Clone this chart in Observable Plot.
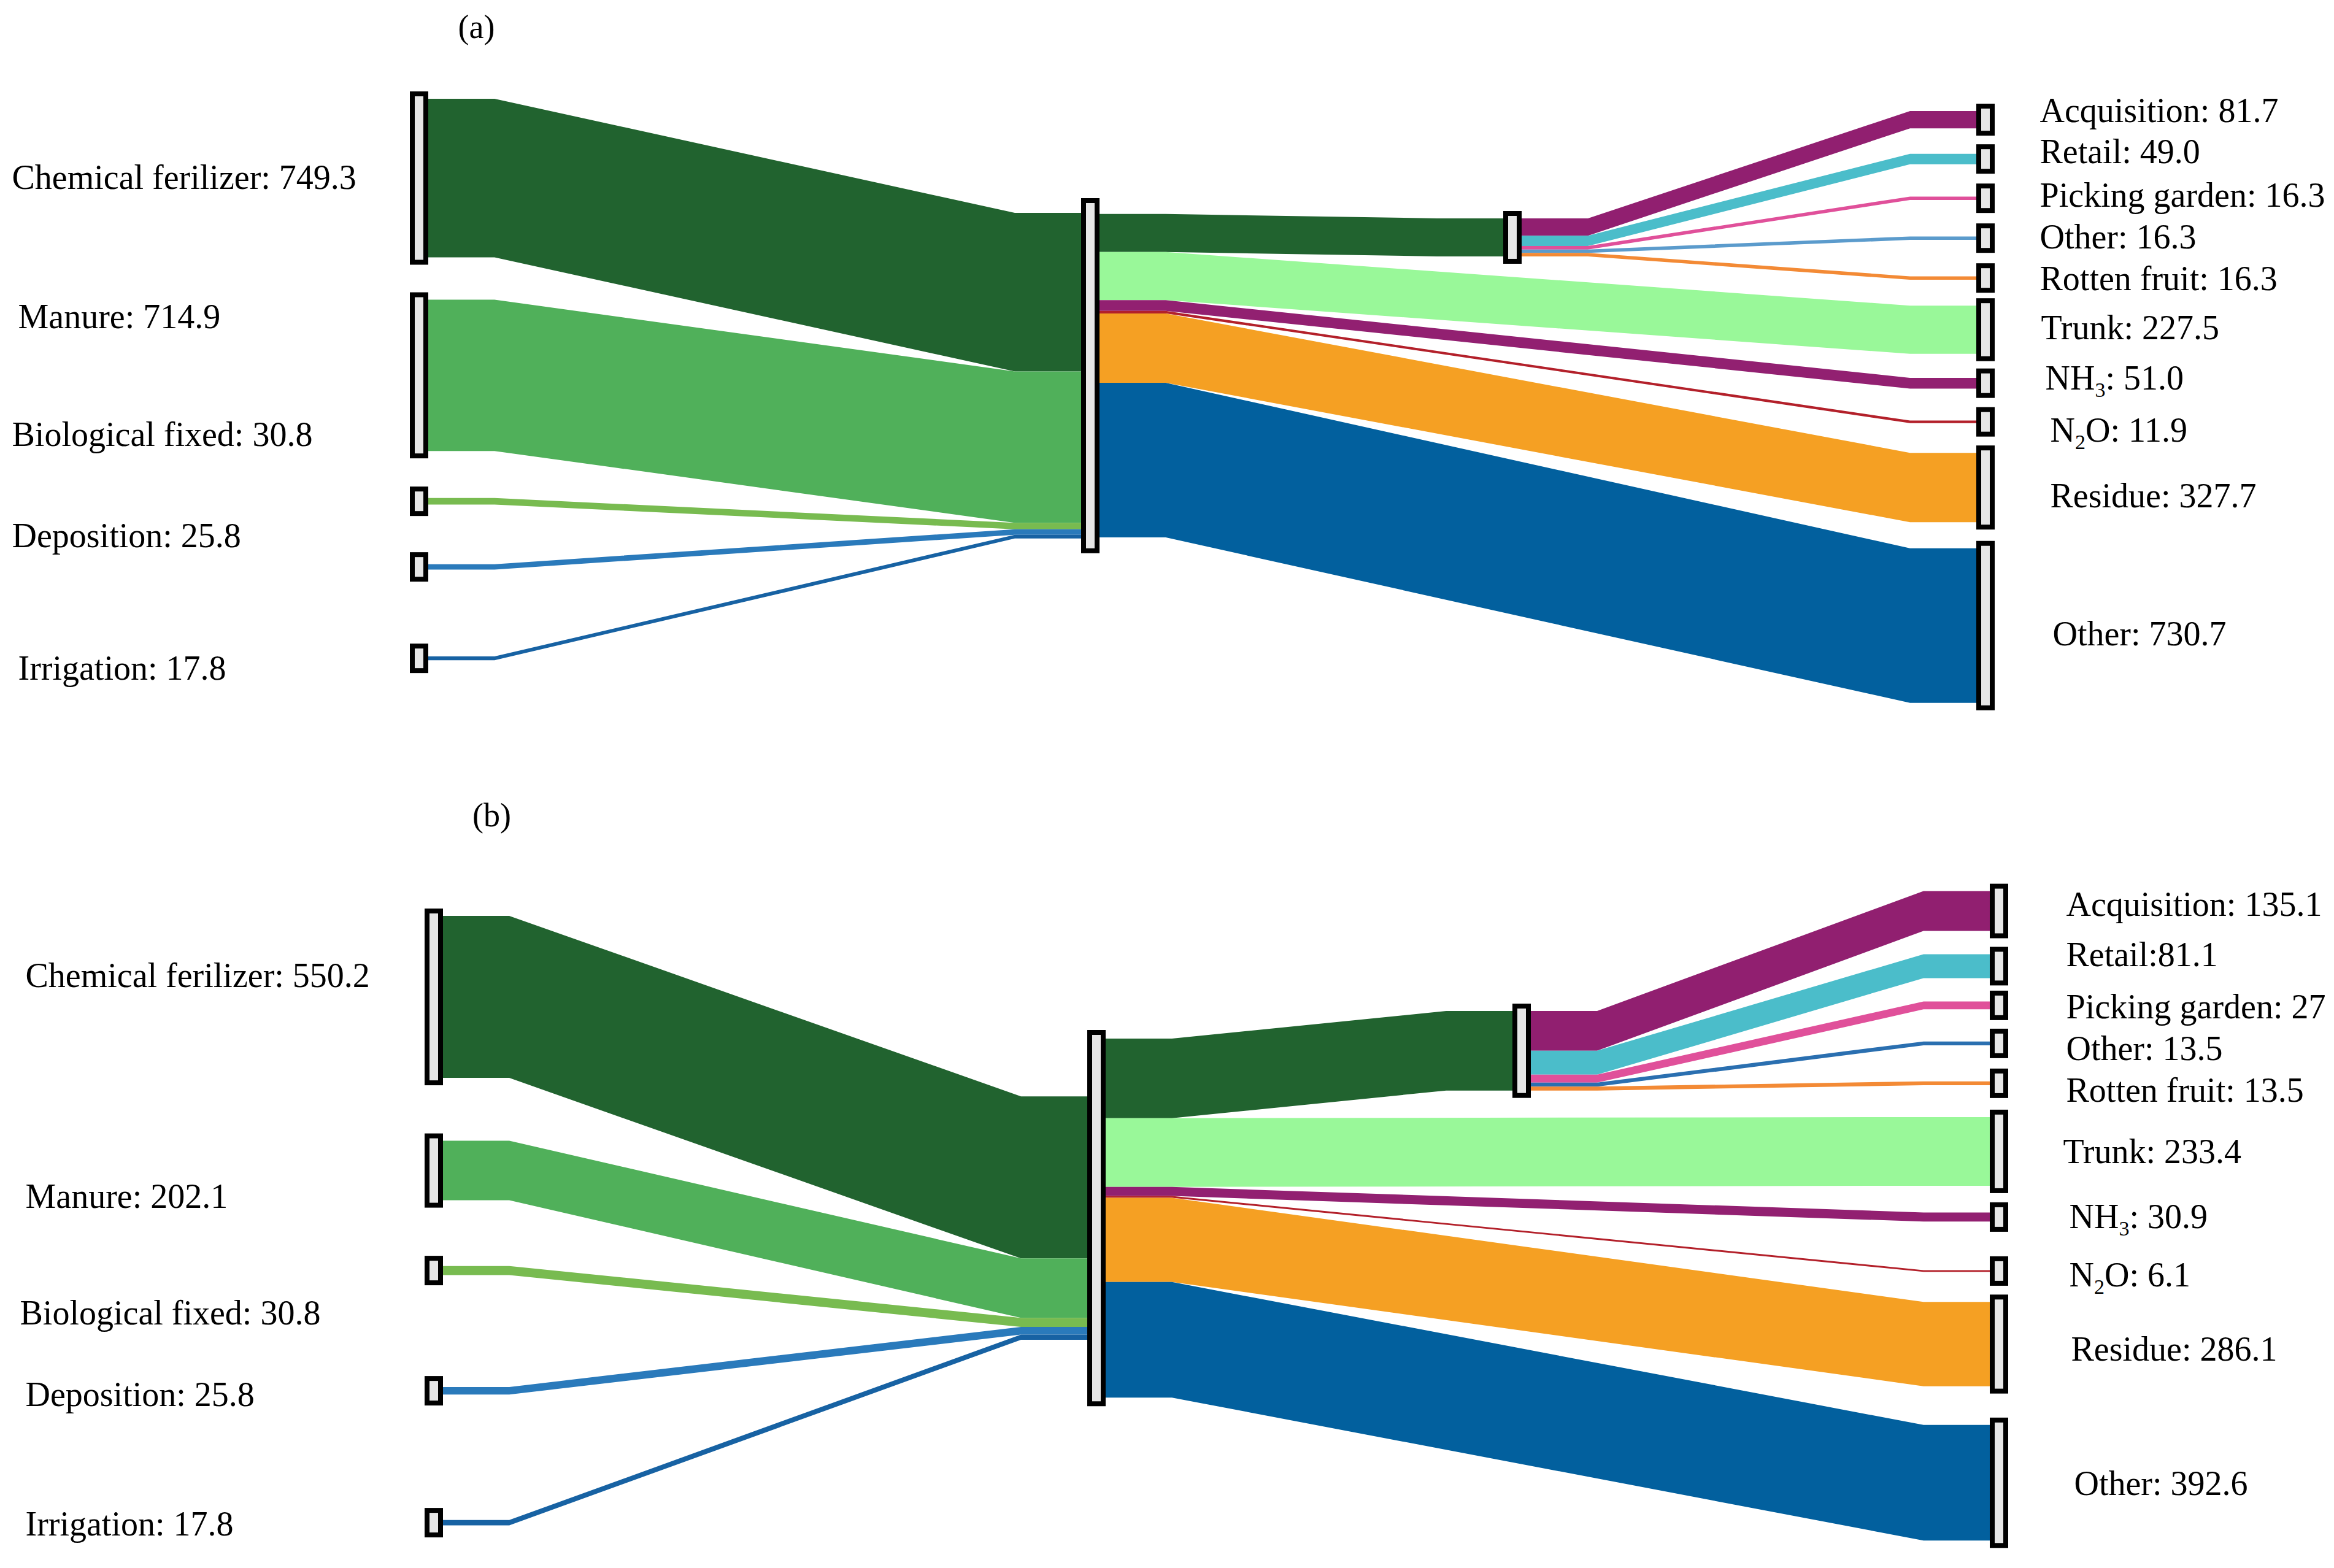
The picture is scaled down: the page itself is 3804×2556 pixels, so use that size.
<!DOCTYPE html>
<html><head><meta charset="utf-8">
<script src="https://cdn.jsdelivr.net/npm/d3@7"></script>
<script src="https://cdn.jsdelivr.net/npm/@observablehq/plot@0.6"></script>
<style>
body{margin:0;background:#fff;}
#chart{width:3804px;height:2556px;}
#chart svg{display:block;}
</style></head><body><div id="chart"></div>
<script>
// ---------- DATA ----------
const inputNames = ["Chemical ferilizer","Manure","Biological fixed","Deposition","Irrigation"];
const fruitNames = ["Acquisition","Retail","Picking garden","Other","Rotten fruit"];
const lossNames  = ["Trunk","NH3","N2O","Residue","Other"];

// panel (a)
const inputValuesA = [749.3, 714.9, 30.8, 25.8, 17.8];
const fruitValuesA = [81.7, 49.0, 16.3, 16.3, 16.3];
const lossValuesA  = [227.5, 51.0, 11.9, 327.7, 730.7];
const inputLabelsA = ["Chemical ferilizer: 749.3","Manure: 714.9","Biological fixed: 30.8","Deposition: 25.8","Irrigation: 17.8"];
const fruitLabelsA = ["Acquisition: 81.7","Retail: 49.0","Picking garden: 16.3","Other: 16.3","Rotten fruit: 16.3"];
const lossLabelsA  = ["Trunk: 227.5","NH_3: 51.0","N_2O: 11.9","Residue: 327.7","Other: 730.7"];

// panel (b)
const inputValuesB = [550.2, 202.1, 30.8, 25.8, 17.8];
const fruitValuesB = [135.1, 81.1, 27, 13.5, 13.5];
const lossValuesB  = [233.4, 30.9, 6.1, 286.1, 392.6];
const inputLabelsB = ["Chemical ferilizer: 550.2","Manure: 202.1","Biological fixed: 30.8","Deposition: 25.8","Irrigation: 17.8"];
const fruitLabelsB = ["Acquisition: 135.1","Retail:81.1","Picking garden: 27","Other: 13.5","Rotten fruit: 13.5"];
const lossLabelsB  = ["Trunk: 233.4","NH_3: 30.9","N_2O: 6.1","Residue: 286.1","Other: 392.6"];

// ---------- STYLE ----------
const inputColors = ["#21632f","#50b05a","#78bb50","#2a7abb","#1762a3"];
const fruitLinkColor = "#21632f";
const lossColors  = ["#99f899","#922071","#b3202a","#f5a023","#02609e"];
const fruitColorsA = ["#911f70","#4bbdca","#e0509a","#5b9bcc","#f38a35"];
const fruitColorsB = ["#911f70","#4bbdca","#e0509a","#2a6fb0","#f38a35"];
const FONT = "Liberation Serif, Times New Roman, serif";
const W = 3804, PH = 1278;

// ---------- LAYOUT ----------
const layoutA = {
  k: 0.345, pad: 12, midPad: 24, minH: 48, nodeW: 30, flat: 108,
  colX: [668, 1762, 2450, 3221],
  gaps: [[149,45,46,59,101],[323],[344],[169,14,16,17,17,9,12,15,14.5,18.5]],
  leftLabelX: [19,29,19,19,29], leftLabelDy: [-1,-95,-109,-51,16],
  rightLabelDx: [73,73,73,73,73,75,82,90,90,94], rightLabelDy: [-15,-12,-5,-2,1,-3,-8,14,14,14],
  title: "(a)", titleX: 776, titleY: 44
};
const layoutB = {
  k: 0.48, pad: 12, midPad: 14, minH: 48, nodeW: 30, flat: 108,
  colX: [692, 1772, 2465, 3243],
  gaps: [[203,78.5,78.5,148,167],[401],[358],[162.6,14,8.5,14,17,19,15,40,14.4,39.2]],
  leftLabelX: [41,41,32,41,41], leftLabelDy: [-34,42,69,6,2],
  rightLabelDx: [94,94,94,94,94,89,99,99,102,107], rightLabelDy: [-10,-18,3,9,12,1,0,7,9,2],
  title: "(b)", titleX: 801, titleY: 51
};

function panel(d, L) {
  const k = L.k;
  const sumIn = d3.sum(d.inputValues);
  const sumFruit = d3.sum(d.fruitValues);
  const sumOut = sumFruit + d3.sum(d.lossValues);
  const nodes = [];
  inputNames.forEach((n,i)=>nodes.push({col:0,key:"in"+i,label:d.inputLabels[i],inV:0,outV:d.inputValues[i],li:i}));
  nodes.push({col:1,key:"mid",inV:sumIn,outV:sumOut,pad:L.midPad});
  nodes.push({col:2,key:"fruit",inV:sumFruit,outV:sumFruit});
  fruitNames.forEach((n,i)=>nodes.push({col:3,key:"f"+i,label:d.fruitLabels[i],inV:d.fruitValues[i],outV:0,li:i}));
  lossNames.forEach((n,i)=>nodes.push({col:3,key:"l"+i,label:d.lossLabels[i],inV:d.lossValues[i],outV:0,li:5+i}));
  for (let c = 0; c < 4; c++) {
    let cursor = 0;
    nodes.filter(n=>n.col===c).forEach((n,j)=>{
      const band = Math.max(n.inV, n.outV) * k;
      const h = Math.max(band + 2*(n.pad ?? L.pad), L.minH);
      n.top = cursor + L.gaps[c][j];
      n.bottom = n.top + h;
      cursor = n.bottom;
      n.cy = (n.top + n.bottom) / 2;
      n.x0 = L.colX[c]; n.x1 = n.x0 + L.nodeW;
      n.inCursor = n.cy - n.inV*k/2;
      n.outCursor = n.cy - n.outV*k/2;
    });
  }
  const byKey = new Map(nodes.map(n=>[n.key,n]));
  const links = [];
  d.inputValues.forEach((v,i)=>links.push({s:"in"+i,t:"mid",v,color:inputColors[i]}));
  links.push({s:"mid",t:"fruit",v:sumFruit,color:fruitLinkColor});
  d.lossValues.forEach((v,i)=>links.push({s:"mid",t:"l"+i,v,color:lossColors[i]}));
  d.fruitValues.forEach((v,i)=>links.push({s:"fruit",t:"f"+i,v,color:d.fruitColors[i]}));
  const pts = [];
  links.forEach((lk,id)=>{
    const s = byKey.get(lk.s), t = byKey.get(lk.t);
    const w = lk.v*k;
    const ys = s.outCursor; s.outCursor += w;
    const yt = t.inCursor; t.inCursor += w;
    [[s.x1,ys],[s.x1+L.flat,ys],[t.x0-L.flat,yt],[t.x0,yt]].forEach(([x,y])=>
      pts.push({id, x, y1:y/k, y2:(y+w)/k, color:lk.color}));
  });
  const labels = [];
  nodes.filter(n=>n.label).forEach(n=>{
    if (n.col===0) labels.push({x:L.leftLabelX[n.li], y:(n.cy+L.leftLabelDy[n.li])/k, text:n.label});
    else labels.push({x:n.x1+L.rightLabelDx[n.li], y:(n.cy+L.rightLabelDy[n.li])/k, text:n.label});
  });
  const sw = 8;
  return Plot.plot({
    width: W, height: PH, margin: 0,
    x: {domain:[0,W], range:[0,W], axis:null},
    y: {domain:[0,PH/k], range:[0,PH], axis:null},
    color: {type:"identity"},
    marks: [
      Plot.area(pts, {x1:"x", y1:"y1", y2:"y2", z:"id", fill:"color", curve:"linear"}),
      Plot.rect(nodes, {x1:n=>n.x0+sw/2, x2:n=>n.x1-sw/2, y1:n=>(n.top+sw/2)/k, y2:n=>(n.bottom-sw/2)/k,
        fill:"#e6e6e6", stroke:"#000", strokeWidth:sw}),
      Plot.text(labels, {x:"x", y:"y", text:"text", textAnchor:"start", fontSize:56, fontFamily:FONT, fill:"#000"}),
      Plot.text([L.title], {x:()=>L.titleX, y:()=>L.titleY/k, text:t=>t, textAnchor:"middle", fontSize:54, fontFamily:FONT, fill:"#000"})
    ]
  });
}

function subscripts(svg){
  const NS = "http://www.w3.org/2000/svg";
  svg.querySelectorAll("text, tspan").forEach(el=>{
    Array.from(el.childNodes).forEach(node=>{
      if (node.nodeType===3 && node.nodeValue.includes("_")) {
        const parts = node.nodeValue.split(/_(\d)/);
        const frag = document.createDocumentFragment();
        parts.forEach((p,i)=>{
          const t = document.createElementNS(NS,"tspan");
          t.textContent = p;
          if (i%2===1) { t.setAttribute("font-size","34"); t.setAttribute("dy","12"); }
          else if (i>0) { t.setAttribute("dy","-12"); }
          frag.appendChild(t);
        });
        el.replaceChild(frag,node);
      }
    });
  });
}

const chart = document.getElementById("chart");
const svgA = panel({inputValues:inputValuesA, fruitValues:fruitValuesA, lossValues:lossValuesA,
  inputLabels:inputLabelsA, fruitLabels:fruitLabelsA, lossLabels:lossLabelsA, fruitColors:fruitColorsA}, layoutA);
const svgB = panel({inputValues:inputValuesB, fruitValues:fruitValuesB, lossValues:lossValuesB,
  inputLabels:inputLabelsB, fruitLabels:fruitLabelsB, lossLabels:lossLabelsB, fruitColors:fruitColorsB}, layoutB);
subscripts(svgA); subscripts(svgB);
chart.appendChild(svgA); chart.appendChild(svgB);
</script></body></html>
